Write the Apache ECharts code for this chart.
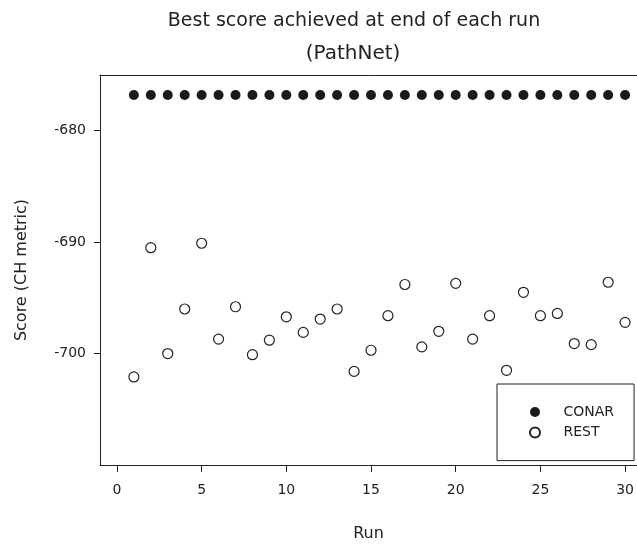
<!DOCTYPE html>
<html><head><meta charset="utf-8">
<script src="https://cdn.jsdelivr.net/npm/echarts@6/dist/echarts.min.js"></script>
<style>html,body{margin:0;padding:0;background:#fff}#c{width:637px;height:547px}</style>
</head><body><div id="c"></div>
<script>
const runs = [1,2,3,4,5,6,7,8,9,10,11,12,13,14,15,16,17,18,19,20,21,22,23,24,25,26,27,28,29,30];
const conarScores = [-676.8,-676.8,-676.8,-676.8,-676.8,-676.8,-676.8,-676.8,-676.8,-676.8,
  -676.8,-676.8,-676.8,-676.8,-676.8,-676.8,-676.8,-676.8,-676.8,-676.8,
  -676.8,-676.8,-676.8,-676.8,-676.8,-676.8,-676.8,-676.8,-676.8,-676.8];
const restScores = [-702.1,-690.5,-700.0,-696.0,-690.1,-698.7,-695.8,-700.1,-698.8,-696.7,
  -698.1,-696.9,-696.0,-701.6,-699.7,-696.6,-693.8,-699.4,-698.0,-693.7,
  -698.7,-696.6,-701.5,-694.5,-696.6,-696.4,-699.1,-699.2,-693.6,-697.2];
const xTicks = [0,5,10,15,20,25,30];
const yTicks = [-700,-690,-680];
const seriesNames = ['CONAR','REST'];
const titleText = 'Best score achieved at end of each run';
const subTitleText = '(PathNet)';

const FONT = 'DejaVu Sans';
const INK = '#222';
const chart = echarts.init(document.getElementById('c'), null, {renderer:'canvas'});
const axisText = {fontFamily: FONT, fontSize: 14, color: INK};
chart.setOption({
  animation: false,
  backgroundColor: '#fff',
  title: [
    {text: titleText, left: 354, top: 12, padding: 0, textAlign: 'center',
     textStyle: {fontFamily: FONT, fontSize: 19, fontWeight: 'normal', color: INK}},
    {text: subTitleText, left: 353, top: 44, padding: 0, textAlign: 'center',
     textStyle: {fontFamily: FONT, fontSize: 20, fontWeight: 'normal', color: INK}}
  ],
  grid: {left: 100, right: 0, top: 75, bottom: 79, containLabel: false},
  legend: {
    orient: 'vertical', left: 497, top: 384,
    padding: [21, 20, 21, 32],
    itemWidth: 47, itemHeight: 10, itemGap: 6.6,
    borderColor: INK, borderWidth: 1, backgroundColor: '#fff',
    textStyle: {fontFamily: FONT, fontSize: 14, color: INK, lineHeight: 14},
    data: seriesNames
  },
  xAxis: [{
    type: 'value', min: -1, max: 30.7, position: 'bottom',
    name: 'Run', nameLocation: 'middle', nameGap: 61,
    nameTextStyle: {fontFamily: FONT, fontSize: 16, color: INK},
    axisLine: {show: true, onZero: false, lineStyle: {color: INK, width: 1}},
    axisTick: {show: true, length: 7, lineStyle: {color: INK}, customValues: xTicks},
    axisLabel: {show: true, margin: 18, customValues: xTicks, ...axisText},
    splitLine: {show: false}
  }, {
    type: 'value', min: -1, max: 30.7, position: 'top',
    axisLine: {show: true, onZero: false, lineStyle: {color: INK, width: 1}},
    axisTick: {show: false}, axisLabel: {show: false}, splitLine: {show: false}
  }],
  yAxis: {
    type: 'value', min: -710, max: -675,
    name: 'Score (CH metric)', nameLocation: 'middle', nameGap: 70,
    nameTextStyle: {fontFamily: FONT, fontSize: 16, color: INK},
    axisLine: {show: true, onZero: false, lineStyle: {color: INK, width: 1}},
    axisTick: {show: true, length: 6, lineStyle: {color: INK}, customValues: yTicks},
    axisLabel: {show: true, margin: 14, customValues: yTicks, ...axisText},
    splitLine: {show: false}
  },
  series: [{
    name: seriesNames[0], type: 'scatter', symbol: 'circle', symbolSize: 10,
    itemStyle: {color: '#1a1a1a', opacity: 1},
    data: runs.map((r, i) => [r, conarScores[i]])
  }, {
    name: seriesNames[1], type: 'scatter', symbol: 'circle', symbolSize: 10,
    itemStyle: {color: '#fff', borderColor: INK, borderWidth: 1.2, opacity: 1},
    data: runs.map((r, i) => [r, restScores[i]])
  }]
});
</script></body></html>
